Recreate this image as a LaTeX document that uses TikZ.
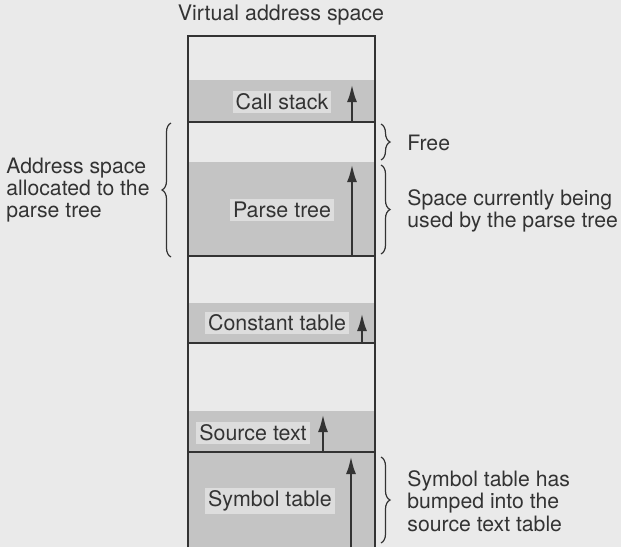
\documentclass[tikz,border=0pt]{standalone}
\usepackage{fontspec}
\setmainfont{TeX Gyre Heros}
\usetikzlibrary{arrows.meta, positioning, calc, decorations.pathreplacing}
\definecolor{paper}{HTML}{EAEAEA}
\definecolor{used}{HTML}{C4C4C4}
\definecolor{ink}{HTML}{333333}

\begin{document}
\begin{tikzpicture}[
    x=0.5pt, y=-0.5pt,
    seg/.style={fill=used, draw=none},
    lbl/.style={font=\fontsize{10.7}{11}\selectfont, text=ink, fill=used!35!paper, inner sep=1.5pt},
    note/.style={font=\fontsize{10.6}{11.2}\selectfont, text=ink, align=left, anchor=west, inner sep=0pt},
    wall/.style={draw=ink, line width=1pt},
    growarrow/.style={draw=ink, line width=1.4pt, -{Latex[length=9pt, width=5pt]}},
    brc/.style={draw=ink, line width=0.6pt, decorate, decoration={brace, amplitude=4.5pt}}
]
    % page and margins
    \fill[paper] (0,0) rectangle (621,547);
    \useasboundingbox (0,0) rectangle (621,547);

    % used parts of the address space
    \fill[seg] (188,80) rectangle (375,122);
    \fill[seg] (188,162) rectangle (375,256);
    \fill[seg] (188,303) rectangle (375,343);
    \fill[seg] (188,411) rectangle (375,452);
    \fill[seg] (188,452) rectangle (375,547);

    % column
    \draw[wall] (188,547) -- (188,36) -- (375,36) -- (375,547);
    \foreach \y in {122,256,343,452}
        \draw[wall] (188,\y) -- (375,\y);

    \node[font=\fontsize{10.7}{11}\selectfont, text=ink] (title) at (281,15) {Virtual address space};

    % growth arrows
    \coordinate (cs0) at (352,122);  \coordinate (cs1) at (352,84);
    \coordinate (pt0) at (352,256);  \coordinate (pt1) at (352,164);
    \coordinate (ct0) at (362,343);  \coordinate (ct1) at (362,313);
    \coordinate (st0) at (323,452);  \coordinate (st1) at (323,414);
    \coordinate (sy0) at (351,547);  \coordinate (sy1) at (351,456);
    \foreach \a in {cs,pt,ct,st,sy}
        \draw[growarrow] (\a0) -- (\a1);

    \node[lbl] (callstack) at (282,102) {Call stack};
    \node[lbl] (parsetree) at (282,210) {Parse tree};
    \node[lbl] (consttab)  at (277,323) {Constant table};
    \node[lbl] (srctext)   at (253,433) {Source text};
    \node[lbl] (symtab)    at (270,501) {Symbol table};

    % braces
    \coordinate (la) at (171,257); \coordinate (lb) at (171,123);
    \coordinate (fa) at (381,124); \coordinate (fb) at (381,160);
    \coordinate (ua) at (381,165); \coordinate (ub) at (381,254);
    \coordinate (ba) at (381,457); \coordinate (bb) at (381,543);
    \draw[brc] (la) -- (lb);
    \draw[brc] (fa) -- (fb);
    \draw[brc] (ua) -- (ub);
    \draw[brc] (ba) -- (bb);

    \node[note] (alloc) at (6,190) {Address space\\allocated to the\\parse tree};
    \node[note] (free)  at (407,143) {Free};
    \node[note] (inuse) at (407,211) {Space currently being\\used by the parse tree};
    \node[note] (bump)  at (407,501) {Symbol table has\\bumped into the\\source text table};
\end{tikzpicture}
\end{document}
